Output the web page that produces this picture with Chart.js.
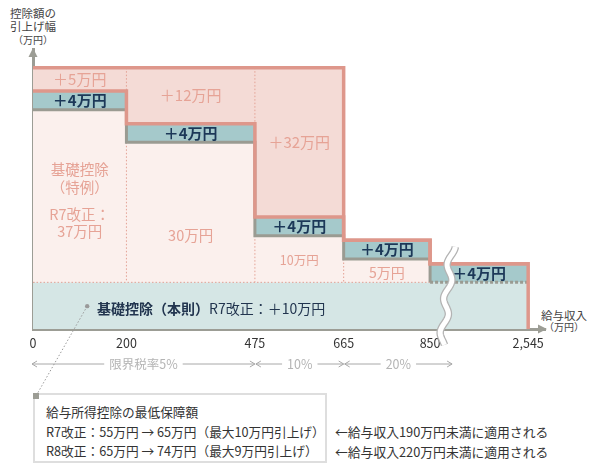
<!DOCTYPE html>
<html lang="ja">
<head>
<meta charset="utf-8">
<script src="https://cdn.jsdelivr.net/npm/chart.js@4.4.1/dist/chart.umd.min.js"></script>
<style>
html,body{margin:0;padding:0;background:#fff;}
#wrap{position:relative;width:599px;height:473px;overflow:hidden;font-family:"Noto Sans CJK JP","Noto Sans",sans-serif;}
#c{position:absolute;left:0;top:0;z-index:2;pointer-events:none;}
.t{position:absolute;white-space:nowrap;z-index:1;}
#ytitle{left:0;top:7px;width:66px;text-align:center;font-size:11.5px;line-height:13px;color:#444;}
#xtitle{left:534px;top:310px;width:60px;text-align:center;font-size:11.5px;line-height:11px;color:#444;}
#note{left:33px;top:393px;width:294px;height:70px;box-sizing:border-box;border:2px solid #dedede;padding:7px 0 0 11px;font-size:12.7px;line-height:19.5px;color:#333;}
#apply{left:335px;top:422px;font-size:12.8px;line-height:19.5px;color:#333;}
</style>
</head>
<body>
<div id="wrap">
  <div class="t" id="ytitle">控除額の<br>引上げ幅<br><span style="font-size:10px">（万円）</span></div>
  <div class="t" id="xtitle">給与収入<br><span style="font-size:10px">（万円）</span></div>
  <div class="t" id="note">給与所得控除の最低保障額<br>R7改正：55万円 → 65万円（最大10万円引上げ）<br>R8改正：65万円 → 74万円（最大9万円引上げ）</div>
  <div class="t" id="apply">←給与収入190万円未満に適用される<br>←給与収入220万円未満に適用される</div>
  <canvas id="c" width="599" height="473"></canvas>
</div>
<script>
// ---------- data ----------
const boundaries = [0, 200, 475, 665, 850, 2545];          // 給与収入（万円）
const tickLabels = ['0', '200', '475', '665', '850', '2,545'];
const honsokuR7 = [10, 10, 10, 10, 10];                     // 基礎控除（本則）R7改正 +10万円
const tokureiR7 = [37, 30, 10, 5, 0];                       // 基礎控除（特例）R7改正
const tokureiR8Base = [4, 4, 4, 4, 4];                      // R8 +4万円
const tokureiR8Extra = [5, 12, 32, 0, 0];                   // R8 +5/+12/+32万円
const taxLabels = ['限界税率5%', '10%', '20%'];
const taxFrom = [0, 475, 665];
const taxTo = [475, 665, 850];

// ---------- axis break (850 → 2,545 compressed) ----------
const BREAK_FROM = 850;
const BREAK_SCALE = 210 / 1695;
const xPos = v => v <= BREAK_FROM ? v : BREAK_FROM + (v - BREAK_FROM) * BREAK_SCALE;

// ---------- colours ----------
const C = {
  baseFill: '#d5e6e5', lightPink: '#fbf0ed', teal: '#a5c9cb', midPink: '#f4dbd6',
  salmon: '#de978b', gray: '#9a9b92', dot: '#e3a194', axis: '#9c9d95',
  salmonText: '#e6a396', navy: '#1c3858', baseText: '#22354f', tick: '#333', tax: '#b4b4b4', taxLine: '#a8a8a8'
};
const FONT = '"Noto Sans CJK JP", "Noto Sans", sans-serif';
Chart.defaults.font.family = FONT;

// ---------- derived levels ----------
const nSeg = boundaries.length - 1;
const L0 = honsokuR7.slice();
const L1 = L0.map((v, i) => v + tokureiR7[i]);
const L2 = L1.map((v, i) => v + tokureiR8Base[i]);
const L3 = L2.map((v, i) => v + tokureiR8Extra[i]);
function steps(levels) {
  const pts = levels.map((v, i) => ({x: xPos(boundaries[i]), y: v}));
  pts.push({x: xPos(boundaries[nSeg]), y: levels[nSeg - 1]});
  return pts;
}
const outline = steps(L3).concat([{x: xPos(boundaries[nSeg]), y: 0}]);
const dottedV = [];
for (let i = 1; i < nSeg; i++) {
  const bx = xPos(boundaries[i]);
  const uTop = Math.min(L3[i - 1], L3[i]), uBot = Math.max(L2[i - 1], L2[i]);
  if (uTop > uBot) dottedV.push({x: bx, y: uTop}, {x: bx, y: uBot}, {x: bx, y: null});
  const lTop = Math.min(L1[i - 1], L1[i]), lBot = Math.max(L0[i - 1], L0[i]);
  if (lTop > lBot) dottedV.push({x: bx, y: lTop}, {x: bx, y: lBot}, {x: bx, y: null});
}
const lastTok = tokureiR7.map(v => v > 0).lastIndexOf(true);
const dottedH = [{x: xPos(boundaries[0]), y: L0[0]}, {x: xPos(boundaries[lastTok + 1]), y: L0[lastTok]}];

// annotation layout (positions in chart units)
const tokNotes = [
  {text: '基礎控除', seg: 0, y: 34.1, size: 14.5},
  {text: '（特例）', seg: 0, y: 30.3, size: 14.5},
  {text: 'R7改正：', seg: 0, y: 24.5, size: 14.5},
  {text: tokureiR7[0] + '万円', seg: 0, y: 20.8, size: 14.5},
  {text: tokureiR7[1] + '万円', seg: 1, y: 20.0, size: 14.5},
  {text: tokureiR7[2] + '万円', seg: 2, y: 14.8, size: 12.5},
  {text: tokureiR7[3] + '万円', seg: 3, y: 12.0, size: 14}
];
const baseNote = {bold: '基礎控除（本則）', regular: 'R7改正：＋' + honsokuR7[0] + '万円', x: 137, y: 4.3, size: 14};
const leaderFrom = {x: 116, y: 4.9};

function segCenter(i) { return (xPos(boundaries[i]) + xPos(boundaries[i + 1])) / 2; }

const overlay = {
  id: 'overlay',
  afterDatasetsDraw(chart) {
    const {ctx, scales: {x, y}} = chart;
    ctx.save();
    ctx.textAlign = 'center';
    ctx.textBaseline = 'middle';
    // R8 labels
    for (let i = 0; i < nSeg; i++) {
      if (tokureiR8Extra[i] > 0) {
        ctx.font = `400 15px ${FONT}`;
        ctx.fillStyle = C.salmonText;
        ctx.fillText('＋' + tokureiR8Extra[i] + '万円', x.getPixelForValue(segCenter(i)), y.getPixelForValue((L2[i] + L3[i]) / 2));
      }
      ctx.font = `700 15px ${FONT}`;
      ctx.fillStyle = C.navy;
      ctx.fillText('＋' + tokureiR8Base[i] + '万円', x.getPixelForValue(segCenter(i)), y.getPixelForValue((L1[i] + L2[i]) / 2));
    }
    // tokurei labels
    ctx.fillStyle = C.salmonText;
    tokNotes.forEach(n => {
      ctx.font = `400 ${n.size}px ${FONT}`;
      ctx.fillText(n.text, x.getPixelForValue(segCenter(n.seg)), y.getPixelForValue(n.y));
    });
    // base label
    ctx.textAlign = 'left';
    ctx.fillStyle = C.baseText;
    let bx = x.getPixelForValue(baseNote.x);
    const by = y.getPixelForValue(baseNote.y);
    ctx.font = `700 ${baseNote.size}px ${FONT}`;
    ctx.fillText(baseNote.bold, bx, by);
    bx += ctx.measureText(baseNote.bold).width;
    ctx.font = `400 ${baseNote.size}px ${FONT}`;
    ctx.fillText(baseNote.regular, bx, by);
    ctx.restore();
  },
  afterDraw(chart) {
    const {ctx, chartArea: ca, scales: {x, y}} = chart;
    ctx.save();
    // axis arrowheads
    ctx.fillStyle = C.axis;
    ctx.beginPath();
    ctx.moveTo(ca.left, ca.top - 1); ctx.lineTo(ca.left - 4.5, ca.top + 8); ctx.lineTo(ca.left + 4.5, ca.top + 8); ctx.closePath(); ctx.fill();
    ctx.beginPath();
    ctx.moveTo(ca.right + 2, ca.bottom); ctx.lineTo(ca.right - 7, ca.bottom - 4.5); ctx.lineTo(ca.right - 7, ca.bottom + 4.5); ctx.closePath(); ctx.fill();

    // axis break symbol
    const breakX = x.getPixelForValue(xPos(BREAK_FROM)) + 17;
    const y0 = y.getPixelForValue(17.6), y1 = ca.bottom + 16;
    const wave = [];
    for (let py = y0; py <= y1; py += 1) {
      const t = (py - y0) / (y1 - y0);
      wave.push([breakX + 5 - 10 * t + 3.2 * Math.sin((py - y0) / 34 * 2 * Math.PI + Math.PI / 2), py]);
    }
    const strokeWave = (w, col) => {
      ctx.beginPath();
      wave.forEach((p, i) => i ? ctx.lineTo(p[0], p[1]) : ctx.moveTo(p[0], p[1]));
      ctx.lineWidth = w; ctx.strokeStyle = col; ctx.lineCap = 'butt'; ctx.stroke();
    };
    strokeWave(7.5, '#b3b3b3');
    strokeWave(5, '#ffffff');

    // marginal tax rate row
    const ty = ca.bottom + 35;
    ctx.font = `400 12.5px ${FONT}`;
    ctx.textAlign = 'center'; ctx.textBaseline = 'middle';
    ctx.lineWidth = 1; ctx.strokeStyle = C.taxLine; ctx.fillStyle = C.tax;
    for (let i = 0; i < taxLabels.length; i++) {
      const x1 = x.getPixelForValue(xPos(taxFrom[i])) + (i ? 1 : -1);
      const x2 = taxTo[i] === BREAK_FROM ? breakX + 5 : x.getPixelForValue(xPos(taxTo[i]));
      const cx = (x1 + x2) / 2;
      const w = ctx.measureText(taxLabels[i]).width;
      ctx.fillText(taxLabels[i], cx, ty);
      ctx.beginPath();
      ctx.moveTo(x1, ty); ctx.lineTo(cx - w / 2 - 5, ty);
      ctx.moveTo(cx + w / 2 + 5, ty); ctx.lineTo(x2, ty);
      ctx.moveTo(x1 + 5, ty - 3); ctx.lineTo(x1, ty); ctx.lineTo(x1 + 5, ty + 3);
      ctx.moveTo(x2 - 5, ty - 3); ctx.lineTo(x2, ty); ctx.lineTo(x2 - 5, ty + 3);
      ctx.stroke();
    }

    // leader line to note box
    const box = document.getElementById('note');
    const lx = x.getPixelForValue(leaderFrom.x), ly = y.getPixelForValue(leaderFrom.y);
    const ex = box.offsetLeft + 3, ey = box.offsetTop + 3;
    ctx.strokeStyle = '#9a9a9a'; ctx.lineWidth = 1; ctx.setLineDash([1.5, 2]);
    ctx.beginPath(); ctx.moveTo(lx, ly); ctx.lineTo(ex, ey); ctx.stroke();
    ctx.setLineDash([]);
    ctx.fillStyle = '#9a9a9a';
    ctx.beginPath(); ctx.arc(lx, ly, 2.2, 0, Math.PI * 2); ctx.fill();
    ctx.fillStyle = '#9c9d95';
    ctx.fillRect(box.offsetLeft, box.offsetTop, 6, 6);
    ctx.restore();
  }
};

new Chart(document.getElementById('c'), {
  type: 'line',
  data: {
    datasets: [
      {label: '基礎控除（本則）', data: steps(L0), stepped: true, fill: 'origin', backgroundColor: C.baseFill, borderWidth: 0, pointRadius: 0, order: 6},
      {label: '基礎控除（特例）', data: steps(L1), stepped: true, fill: 0, backgroundColor: C.lightPink, borderColor: C.gray, borderWidth: 3, pointRadius: 0, order: 2,
        segment: {borderDash: ctx => (ctx.p0DataIndex < nSeg && tokureiR7[ctx.p0DataIndex] === 0) ? [3, 2] : undefined}},
      {label: 'R8 +4万円', data: steps(L2), stepped: true, fill: 1, backgroundColor: C.teal, borderColor: C.salmon, borderWidth: 3.5, pointRadius: 0, order: 1},
      {label: 'R8 上乗せ', data: outline, stepped: true, fill: 2, backgroundColor: C.midPink, borderColor: C.salmon, borderWidth: 3.5, pointRadius: 0, order: 0},
      {label: 'dotV', data: dottedV, borderColor: C.dot, borderWidth: 1, borderDash: [1.5, 2], spanGaps: false, fill: false, pointRadius: 0, order: 4},
      {label: 'dotH', data: dottedH, borderColor: C.dot, borderWidth: 1, borderDash: [1.5, 2], fill: false, pointRadius: 0, order: 4}
    ]
  },
  options: {
    responsive: false,
    animation: false,
    events: [],
    layout: {padding: {left: 33, right: 54, top: 49, bottom: 114}},
    plugins: {legend: {display: false}, tooltip: {enabled: false}, filler: {drawTime: 'beforeDatasetsDraw'}},
    scales: {
      x: {
        type: 'linear', min: 0, max: 1096, z: 1,
        grid: {display: false, drawTicks: false},
        border: {display: true, color: C.axis, width: 3},
        afterBuildTicks: s => { s.ticks = boundaries.map(b => ({value: xPos(b)})); },
        afterFit: s => { s.height = 30; },
        ticks: {autoSkip: false, maxRotation: 0, padding: 7, color: C.tick, font: {size: 12.5},
          callback: (v, i) => tickLabels[i]}
      },
      y: {
        type: 'linear', min: 0, max: 60, z: 1,
        grid: {display: false, drawTicks: false},
        border: {display: true, color: C.axis, width: 3},
        ticks: {display: false},
        afterFit: s => { s.width = 0; }
      }
    }
  },
  plugins: [overlay]
});
</script>
</body>
</html>
